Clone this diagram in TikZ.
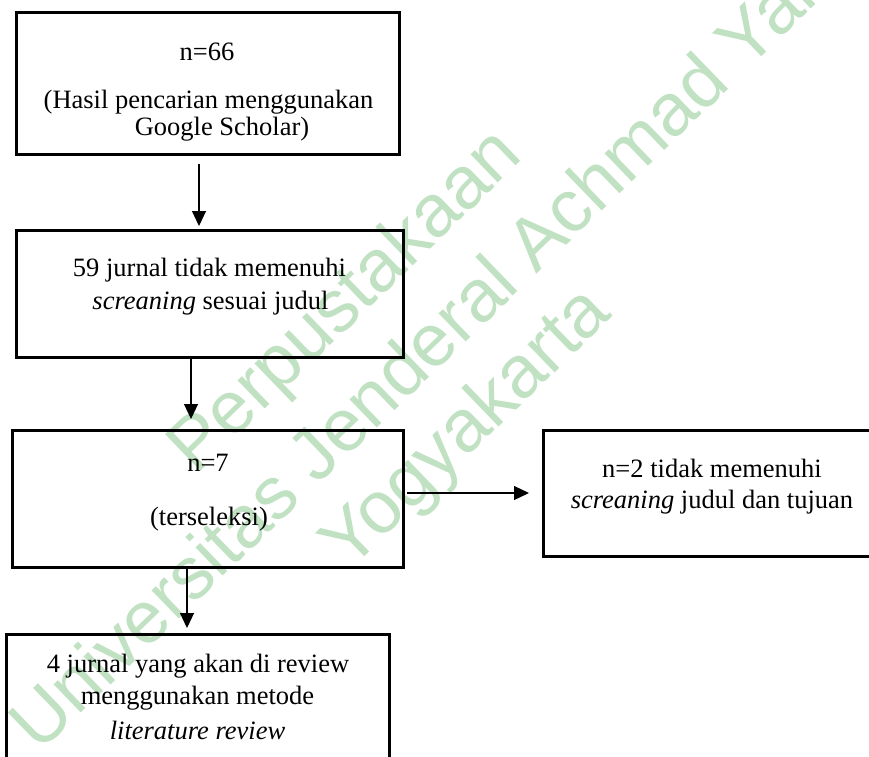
\documentclass[tikz,border=0pt]{standalone}
\usepackage{fontspec}
\setmainfont{Liberation Serif}
\newfontfamily\wmfont{Liberation Sans}
\usetikzlibrary{arrows.meta}
\definecolor{wmgreen}{RGB}{192,225,194}
\tikzset{
 box/.style={draw, line width=3pt, rectangle, inner sep=0pt, outer sep=0pt},
 txt/.style={anchor=base, inner sep=0pt, font=\fontsize{26.5}{30}\selectfont},
 arr/.style={line width=1.1pt, -{Triangle[width=14pt,length=15pt]}},
 wm/.style={font=\wmfont\fontsize{74}{85}\selectfont, text=wmgreen, rotate=44, inner sep=0pt}
}
\begin{document}
\begin{tikzpicture}[x=1pt,y=1pt]
\useasboundingbox (0,0) rectangle (869,-756);
\clip (0,0) rectangle (869,-756);
% watermark
\node[wm] (w1) at (347,-303) {Perpustakaan};
\node[wm] (w2) at (426,-344) {Universitas Jenderal Achmad Yani};
\node[wm] (w3) at (468,-430) {Yogyakarta};
% boxes
\node[box, minimum width=383pt, minimum height=142pt] (b1) at (207.5,-83) {};
\node[box, minimum width=387pt, minimum height=127pt] (b2) at (209.5,-293.5) {};
\node[box, minimum width=391pt, minimum height=137pt] (b3) at (207.5,-498.5) {};
\node[box, minimum width=337pt, minimum height=126pt] (b4) at (711.5,-493) {};
\node[box, minimum width=383pt, minimum height=146pt] (b5) at (197.5,-707) {};
% texts
\node[txt] (t1a) at (207,-60) {n=66};
\node[txt] (t1b) at (208.5,-108) {(Hasil pencarian menggunakan};
\node[txt] (t1c) at (222,-135) {Google Scholar)};
\node[txt] (t2a) at (209.5,-276) {59 jurnal tidak memenuhi};
\node[txt] (t2b) at (210.5,-309) {\textit{screaning} sesuai judul};
\node[txt] (t3a) at (208,-471) {n=7};
\node[txt] (t3b) at (209,-525) {(terseleksi)};
\node[txt] (t4a) at (712,-477) {n=2 tidak memenuhi};
\node[txt] (t4b) at (712,-508) {\textit{screaning} judul dan tujuan};
\node[txt] (t5a) at (198,-672) {4 jurnal yang akan di review};
\node[txt] (t5b) at (197.5,-704) {menggunakan metode};
\node[txt] (t5c) at (197.5,-739) {\textit{literature review}};
% arrows
\draw[arr, shorten <=10pt, shorten >=4pt] ([xshift=-8.5pt]b1.south) -- ([xshift=-10.5pt]b2.north);
\draw[arr, shorten <=1pt, shorten >=11pt] ([xshift=-18.5pt]b2.south) -- ([xshift=-16.5pt]b3.north);
\draw[arr, shorten >=6pt] ([xshift=-20.5pt]b3.south) -- ([xshift=-10.5pt]b5.north);
\draw[arr, shorten <=4pt, shorten >=14pt] ([yshift=5.5pt]b3.east) -- (b4.west);
\end{tikzpicture}
\end{document}
